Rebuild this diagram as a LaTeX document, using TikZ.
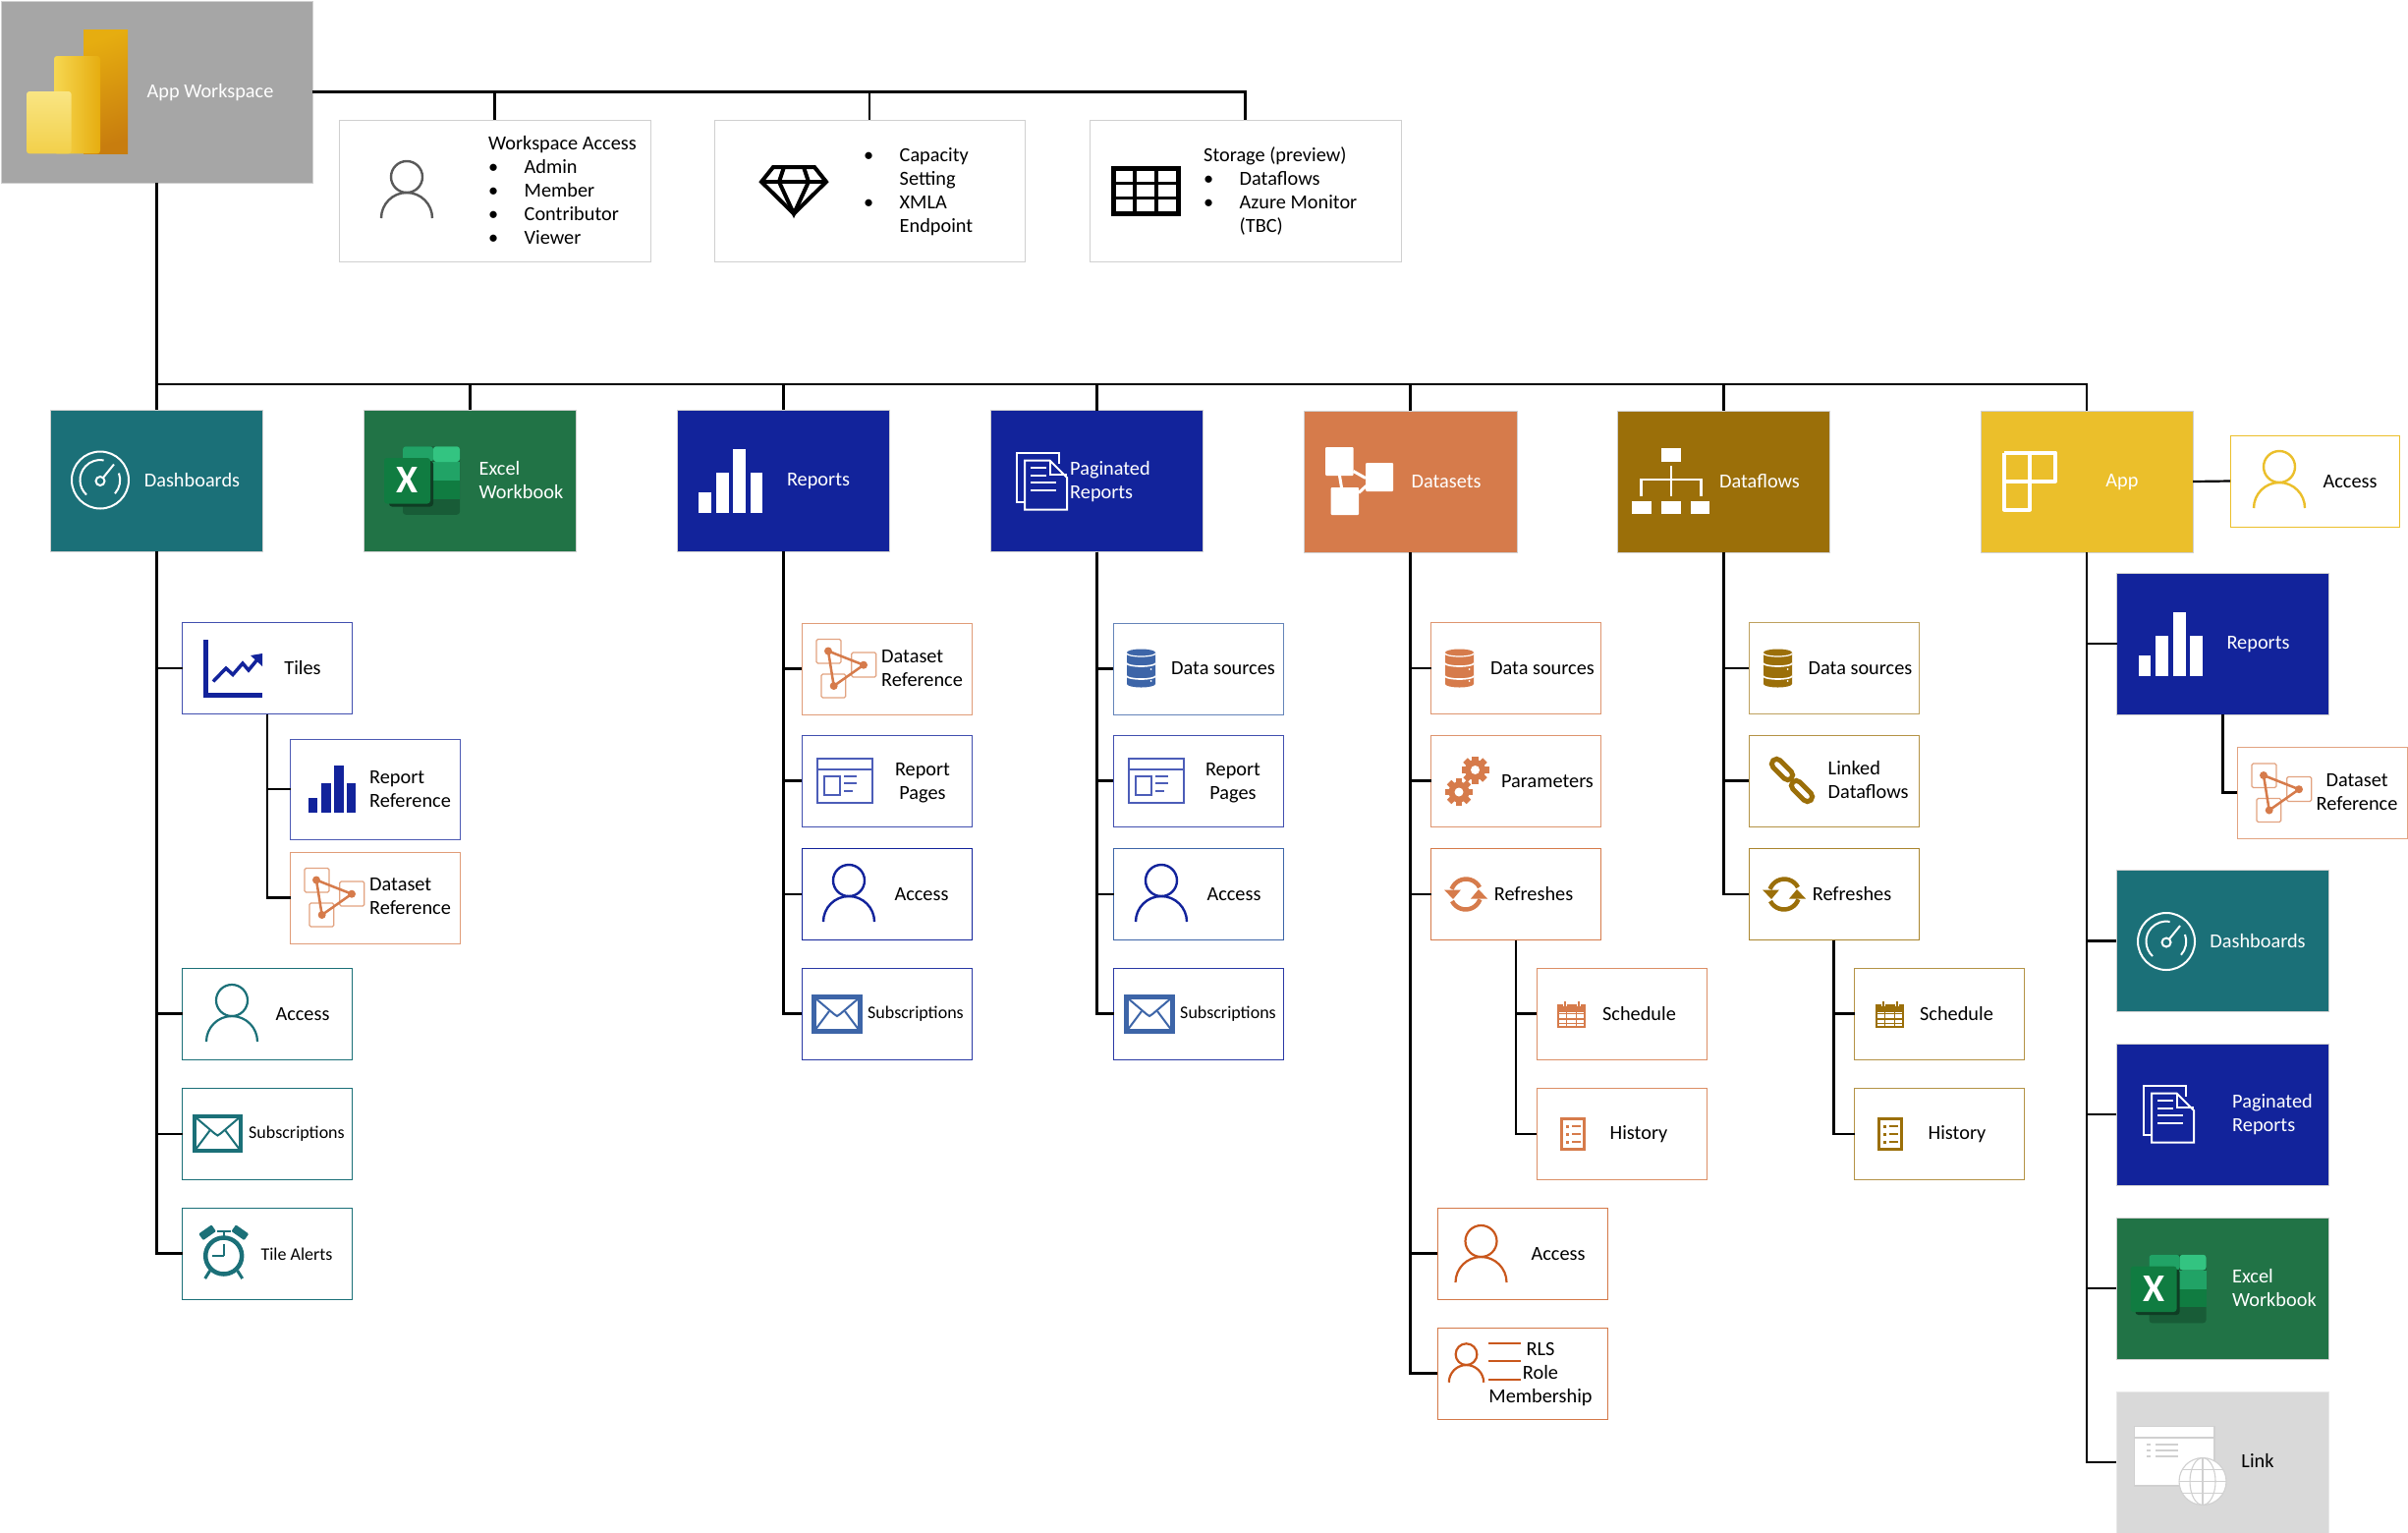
\documentclass[tikz,border=0pt]{standalone}
\usepackage{fontspec}
\setmainfont{Carlito}
\definecolor{wsgrey}{HTML}{A6A6A6}
\definecolor{edgegrey}{HTML}{D0D0D0}
\definecolor{dashteal}{HTML}{1B7078}
\definecolor{xlgreen}{HTML}{217346}
\definecolor{repnavy}{HTML}{12239B}
\definecolor{setorange}{HTML}{D67B4B}
\definecolor{flowbrown}{HTML}{9B6F09}
\definecolor{appyellow}{HTML}{EBBF2B}
\definecolor{linkgrey}{HTML}{D9D9D9}
\definecolor{dbblue}{HTML}{3D65A8}
\definecolor{pagelilac}{HTML}{4C5DB8}
\definecolor{rlsrust}{HTML}{C9571C}
\definecolor{xltop}{HTML}{33C481}
\definecolor{xlmid}{HTML}{21A366}
\definecolor{xldark}{HTML}{107C41}
\definecolor{xlbot}{HTML}{185C37}
\definecolor{xlshade}{HTML}{0F3D24}
\definecolor{biA}{HTML}{E6AD10}
\definecolor{biB}{HTML}{C87D0E}
\definecolor{biC}{HTML}{F6D751}
\definecolor{biD}{HTML}{F9E583}
\definecolor{biE}{HTML}{F2D04A}
\newcommand{\lfont}{\fontsize{20.3}{24}\selectfont}
\newcommand{\sfont}{\fontsize{18}{22}\selectfont}
\newcommand{\itm}{\makebox[36.5pt][l]{\textbullet}}
\tikzset{
  tile/.style={rectangle,fill=#1,draw=edgegrey,line width=1pt,minimum width=216pt,minimum height=144pt,inner sep=0pt,outer sep=0pt},
  card/.style={rectangle,fill=white,draw=#1,line width=1pt,minimum width=173pt,minimum height=93pt,inner sep=0pt,outer sep=0pt},
  lab/.style={font=\lfont,inner sep=0pt,align=center,text=black},
  wlab/.style={lab,text=white},
  conn/.style={draw=black,line width=2.2pt},
  upxy/.style={x=1pt,y=1pt},
}
% icons: centre x, centre y, scale, colour
\newcommand{\iconperson}[5]{\begin{scope}[shift={(#1,#2)},x=#3pt,y=#3pt]
  \draw[#4,line width=#5pt] (0,13) circle[radius=16];
  \draw[#4,line width=#5pt] (-26,-29) arc[start angle=180,end angle=0,radius=26];
\end{scope}}
\newcommand{\icongauge}[3]{\begin{scope}[shift={(#1,#2)},upxy,draw=white,line width=2pt]
  \draw (0,0) circle[radius=29];
  \draw (-14,-15) arc[start angle=227,end angle=80,radius=20.5];
  \draw (19,7) arc[start angle=20,end angle=-42,radius=20.5];
  \draw (0,-1) circle[radius=4.5];
  \draw (3,2.5) -- (14,16);
\end{scope}}
\newcommand{\iconexcel}[3]{\begin{scope}[shift={(#1,#2)},upxy]
  \fill[rounded corners=3pt,fill=xlbot] (-19.5,-34.75) rectangle (38.5,34.75);
  \fill[fill=xldark] (-19.5,0) rectangle (38.5,-18.5);
  \fill[fill=xlmid] (-19.5,0) rectangle (38.5,19);
  \fill[rounded corners=3pt,fill=xlmid] (-19.5,19) -- (-19.5,34.75) -- (11.5,34.75) -- (11.5,19) -- cycle;
  \fill[rounded corners=3pt,fill=xltop] (11.5,19) -- (11.5,34.75) -- (38.5,34.75) -- (38.5,19) -- cycle;
  \fill[rounded corners=3pt,fill=xlshade] (-33.5,-26.5) rectangle (11.5,20);
  \fill[rounded corners=3pt,fill=xldark] (-38.5,-23.5) rectangle (8.5,23);
  \node[font=\fontsize{40}{40}\selectfont\bfseries,text=white,inner sep=0pt] (#3) at (-15,0) {X};
\end{scope}}
\newcommand{\iconbars}[4]{\begin{scope}[shift={(#1,#2)},x=#3pt,y=#3pt]
  \fill[#4] (-32.5,-32.5) rectangle (-20,-12);
  \fill[#4] (-15,-32.5) rectangle (-2,8);
  \fill[#4] (2.5,-32.5) rectangle (15.5,32.5);
  \fill[#4] (20,-32.5) rectangle (32.5,8);
\end{scope}}
\newcommand{\iconpages}[2]{\begin{scope}[shift={(#1,#2)},upxy,draw=white,line width=2pt]
  \draw (-17.5,-21) -- (-25.5,-21) -- (-25.5,29) -- (17.5,29) -- (17.5,18);
  \draw (-17.5,21.4) -- (8,21.4) -- (25.5,4) -- (25.5,-28.6) -- (-17.5,-28.6) -- cycle;
  \draw (8,21.4) -- (8,7) -- (25.5,7);
  \draw (-11.5,14) -- (4.5,14);
  \draw (-11.5,6.5) -- (4.5,6.5);
  \draw (-11.5,-1) -- (14.5,-1);
  \draw (-11.5,-8.5) -- (14.5,-8.5);
\end{scope}}
\newcommand{\iconref}[2]{\begin{scope}[shift={(#1,#2)},upxy]
  \draw[rounded corners=1.5pt,draw=setorange!70!white,line width=1.3pt] (-30,29.5) rectangle (-5,5);
  \draw[rounded corners=1.5pt,draw=setorange!70!white,line width=1.3pt] (5.7,16) rectangle (30.7,-9);
  \draw[rounded corners=1.5pt,draw=setorange!70!white,line width=1.3pt] (-25,-6) rectangle (-0.3,-30);
  \draw[setorange,line width=2.5pt] (-18,17.5) -- (18,3.3) -- (-12.3,-18) -- cycle;
  \fill[setorange] (-18,17.5) circle[radius=4];
  \fill[setorange] (18,3.3) circle[radius=4];
  \fill[setorange] (-12.3,-18) circle[radius=4];
\end{scope}}
\newcommand{\icondb}[3]{\begin{scope}[shift={(#1,#2)},upxy]
  \fill[#3] (-14.5,-16) -- (-14.5,16) arc[start angle=180,end angle=0,x radius=14.5,y radius=3.5] -- (14.5,-16) arc[start angle=0,end angle=-180,x radius=14.5,y radius=3.5] -- cycle;
  \draw[white,line width=1.2pt] (-14.5,15) arc[start angle=180,end angle=360,x radius=14.5,y radius=3];
  \draw[white,line width=1.6pt] (-14.5,5) arc[start angle=180,end angle=360,x radius=14.5,y radius=3];
  \draw[white,line width=1.6pt] (-14.5,-8) arc[start angle=180,end angle=360,x radius=14.5,y radius=3];
  \fill[white] (10,-1) circle[radius=1];
  \fill[white] (10,-13) circle[radius=1];
\end{scope}}
\newcommand{\iconmail}[3]{\begin{scope}[shift={(#1,#2)},upxy]
  \draw[#3,line width=4.5pt] (-23.5,-17.5) rectangle (23.5,17.5);
  \draw[#3,line width=2pt] (-23,17) -- (-3,0) -- (0,-2) -- (3,0) -- (23,17);
  \draw[#3,line width=2pt] (-23,-17) -- (-8,3);
  \draw[#3,line width=2pt] (23,-17) -- (8,3);
\end{scope}}
\newcommand{\iconrpage}[2]{\begin{scope}[shift={(#1,#2)},upxy,draw=pagelilac,line width=2pt]
  \draw (-28,-22.5) rectangle (28,22.5);
  \draw (-28,11) -- (28,11);
  \draw (-21,4) rectangle (-5,-15);
  \draw (-1,4) -- (12,4);
  \draw (-1,-3) -- (12,-3);
  \draw (-1,-10.7) -- (8,-10.7);
\end{scope}}
\newcommand{\icongear}[3]{\begin{scope}[shift={(#1,#2)},upxy]
  \fill[setorange] (0,0) circle[radius=10.5];
  \foreach \a in {0,45,...,315} \fill[setorange,rotate=\a] (-3.2,8) rectangle (3.2,14);
  \fill[white] (0,0) circle[radius=4.5];
\end{scope}}
\newcommand{\iconrefresh}[3]{\begin{scope}[shift={(#1,#2)},upxy]
  \foreach \a in {0,180} {
    \draw[#3,line width=4.5pt,rotate=\a] (14,7) arc[start angle=27,end angle=160,radius=15.5];
    \fill[#3,rotate=\a] (-22,4.5) -- (-5,4.5) -- (-13,-5) -- cycle;
  }
\end{scope}}
\newcommand{\iconcal}[3]{\begin{scope}[shift={(#1,#2)},upxy]
  \fill[#3] (-14.5,-13.5) rectangle (14.5,11);
  \fill[white] (-9,9) rectangle (-5,12);
  \fill[white] (5,9) rectangle (9,12);
  \fill[#3] (-8,9) rectangle (-6,13.5);
  \fill[#3] (6,9) rectangle (8,13.5);
  \fill[white] (-12.5,-11.5) rectangle (12.5,2.5);
  \draw[#3,line width=1.4pt] (-14,-4.5) -- (14,-4.5);
  \draw[#3,line width=1.4pt] (-14,1) -- (14,1);
  \draw[#3,line width=1.4pt] (-5,3) -- (-5,-12);
  \draw[#3,line width=1.4pt] (5,3) -- (5,-12);
  \draw[#3,line width=1.4pt] (-14,-9) -- (14,-9);
\end{scope}}
\newcommand{\iconlist}[3]{\begin{scope}[shift={(#1,#2)},upxy]
  \draw[#3,line width=3pt] (-11.5,-15.5) rectangle (11.5,15.5);
  \foreach \y in {8,0,-8} {
    \fill[#3] (-7,\y-1.5) rectangle (-4,\y+1.5);
    \draw[#3,line width=1.2pt] (-1,\y) -- (8,\y);
  }
\end{scope}}
\begin{document}
\begin{tikzpicture}[x=1pt,y=-1pt]
\useasboundingbox (0,0) rectangle (2451,1559);

% top row
\node [tile=wsgrey,minimum width=317pt,minimum height=185pt] (work) at (159.5,93.5) {};
\node [card=edgegrey,minimum width=317pt,minimum height=144pt] (wacc) at (503.5,194) {};
\node [card=edgegrey,minimum width=316pt,minimum height=144pt] (cap) at (885,194) {};
\node [card=edgegrey,minimum width=317pt,minimum height=144pt] (store) at (1267.5,194) {};
\coordinate (bus) at (159.5,391);

\node [tile=dashteal] (dash) at (159.5,489) {};
\node [tile=xlgreen] (excel) at (478.5,489) {};
\node [tile=repnavy] (rep) at (797.5,489) {};
\node [tile=repnavy] (pag) at (1116.5,489.5) {};
\node [tile=setorange,minimum width=217pt] (dset) at (1435.5,490) {};
\node [tile=flowbrown] (dflow) at (1754.5,490) {};
\node [tile=appyellow] (app) at (2124,490) {};
\node [card=appyellow,minimum width=172pt] (appacc) at (2356,489.5) {};

% dashboards
\node [card=repnavy!80!white] (tiles) at (272,680) {};
\node [card=repnavy!75!white,minimum height=102pt] (rref) at (382,803) {};
\node [card=setorange!75!white] (dref1) at (382,913.5) {};
\node [card=dashteal] (dacc) at (272,1031.5) {};
\node [card=dashteal] (dsub) at (272,1154) {};
\node [card=dashteal] (alert) at (272,1275.5) {};

% reports
\node [card=setorange!75!white] (dref2) at (902.5,680.5) {};
\node [card=repnavy!80!white] (rpag1) at (902.5,794.5) {};
\node [card=repnavy] (racc) at (902.5,910) {};
\node [card=repnavy!90!white] (rsub) at (902.5,1031.5) {};

% paginated reports
\node [card=dbblue!80!white] (pds) at (1219.5,680.5) {};
\node [card=repnavy!80!white] (rpag2) at (1219.5,794.5) {};
\node [card=dbblue] (pacc) at (1220,910) {};
\node [card=repnavy!90!white] (psub) at (1220,1031.5) {};

% datasets
\node [card=setorange!80!white] (sds) at (1543,680) {};
\node [card=setorange!80!white] (para) at (1543,794.5) {};
\node [card=setorange] (sref) at (1543,910) {};
\node [card=setorange!85!white] (ssch) at (1650.5,1031.5) {};
\node [card=setorange!85!white] (shis) at (1650.5,1154) {};
\node [card=rlsrust!80!white] (sacc) at (1549.5,1275.5) {};
\node [card=rlsrust!80!white] (rls) at (1549.5,1397.5) {};

% dataflows
\node [card=flowbrown!65!white] (fds) at (1866.5,680) {};
\node [card=flowbrown!75!white] (lnk) at (1866.5,794.5) {};
\node [card=flowbrown!85!white] (fref) at (1866.5,910) {};
\node [card=flowbrown!75!white] (fsch) at (1974,1031.5) {};
\node [card=flowbrown!75!white] (fhis) at (1974,1154) {};

% app
\node [tile=repnavy] (arep) at (2262.5,655) {};
\node [card=setorange!70!white] (dref3) at (2363.5,806.5) {};
\node [tile=dashteal] (adash) at (2262,957.5) {};
\node [tile=repnavy] (apag) at (2262,1134) {};
\node [tile=xlgreen] (axl) at (2262,1311) {};
\node [tile=linkgrey,draw=linkgrey!60!white] (alink) at (2262,1488) {};

% connectors
\draw[conn] (work.east) -| (wacc.north);
\draw[conn] (work.east) -| (cap.north);
\draw[conn] (work.east) -| (store.north);
\draw[conn] (work.south) -- (bus);
\foreach \n in {dash,excel,rep,pag,dset,dflow,app}
  \draw[conn] (bus) -| (\n.north);
\foreach \n in {tiles,dacc,dsub,alert}
  \draw[conn] (dash.south) |- (\n.west);
\foreach \n in {rref,dref1}
  \draw[conn] (tiles.south) |- (\n.west);
\foreach \n in {dref2,rpag1,racc,rsub}
  \draw[conn] (rep.south) |- (\n.west);
\foreach \n in {pds,rpag2,pacc,psub}
  \draw[conn] (pag.south) |- (\n.west);
\foreach \n in {sds,para,sref,sacc,rls}
  \draw[conn] (dset.south) |- (\n.west);
\foreach \n in {ssch,shis}
  \draw[conn] (sref.south) |- (\n.west);
\foreach \n in {fds,lnk,fref}
  \draw[conn] (dflow.south) |- (\n.west);
\foreach \n in {fsch,fhis}
  \draw[conn] (fref.south) |- (\n.west);
\draw[conn] (app.east) -- (appacc.west);
\foreach \n in {arep,adash,apag,axl,alink}
  \draw[conn] (app.south) |- (\n.west);
\draw[conn] (arep.south) |- (dref3.west);

% labels
\node [wlab] (l1) at (214,94) {App Workspace};
\node [lab,align=left,anchor=west] (l2) at (497,193.5) {Workspace Access\\\itm Admin\\\itm Member\\\itm Contributor\\\itm Viewer};
\node [lab,align=left,anchor=west] (l3) at (879,195) {\itm Capacity\\\hspace{36.5pt}Setting\\\itm XMLA\\\hspace{36.5pt}Endpoint};
\node [lab,align=left,anchor=west] (l4) at (1225,194.5) {Storage (preview)\\\itm Dataflows\\\itm Azure Monitor\\\hspace{36.5pt}(TBC)};
\node [wlab] (l5) at (195.5,489) {Dashboards};
\node [wlab,align=left,anchor=west] (l6) at (487.5,489) {Excel\\Workbook};
\node [wlab] (l7) at (833,490) {Reports};
\node [wlab,align=left,anchor=west] (l8) at (1089,490) {Paginated\\Reports};
\node [wlab] (l9) at (1472,490) {Datasets};
\node [wlab] (l10) at (1791,490) {Dataflows};
\node [wlab] (l11) at (2160,491) {App};
\node [lab] (l12) at (2392,490) {Access};
\node [lab] (l13) at (308,680) {Tiles};
\node [lab,align=left,anchor=west] (l14) at (376,803) {Report\\Reference};
\node [lab,align=left,anchor=west] (l15) at (376,912) {Dataset\\Reference};
\node [lab] (l16) at (308,1032) {Access};
\node [lab,font=\sfont] (l17) at (302,1154) {Subscriptions};
\node [lab,font=\sfont] (l18) at (302,1276) {Tile Alerts};
\node [lab,align=left,anchor=west] (l19) at (897,680) {Dataset\\Reference};
\node [lab] (l20) at (939,796.5) {Report\\Pages};
\node [lab] (l21) at (938,910) {Access};
\node [lab,font=\sfont] (l22) at (932,1032) {Subscriptions};
\node [lab] (l23) at (1245,680) {Data sources};
\node [lab] (l24) at (1255,796.5) {Report\\Pages};
\node [lab] (l25) at (1256,910) {Access};
\node [lab,font=\sfont] (l26) at (1250,1032) {Subscriptions};
\node [lab] (l27) at (1570,680) {Data sources};
\node [lab] (l28) at (1575,795) {Parameters};
\node [lab] (l29) at (1561,910) {Refreshes};
\node [lab] (l30) at (1668.5,1032) {Schedule};
\node [lab] (l31) at (1668,1154) {History};
\node [lab] (l32) at (1586,1276) {Access};
\node [lab] (l33) at (1568,1399) {RLS\\Role\\Membership};
\node [lab] (l34) at (1893.5,680) {Data sources};
\node [lab,align=left,anchor=west] (l35) at (1860.5,794) {Linked\\Dataflows};
\node [lab] (l36) at (1885,910) {Refreshes};
\node [lab] (l37) at (1991.5,1032) {Schedule};
\node [lab] (l38) at (1992,1154) {History};
\node [wlab] (l39) at (2298.5,656) {Reports};
\node [lab] (l40) at (2399,806) {Dataset\\Reference};
\node [wlab] (l41) at (2298,957.5) {Dashboards};
\node [wlab,align=left,anchor=west] (l42) at (2272,1134) {Paginated\\Reports};
\node [wlab,align=left,anchor=west] (l43) at (2272,1310) {Excel\\Workbook};
\node [lab] (l44) at (2298,1486) {Link};

% workspace logo
\shade[top color=biA,bottom color=biB,shading angle=20] (85,30) rectangle (130,156.4);
\shade[left color=biC,right color=biA,rounded corners=3pt] (55,156.4) -- (55,57) -- (102,57) -- (102,156.4) -- cycle;
\shade[top color=biD,bottom color=biE,rounded corners=3pt] (27,156.4) -- (27,93) -- (72.7,93) -- (72.7,156.4) -- cycle;

% icons
\iconperson{414}{193}{1}{black!65}{2.4}
\begin{scope}[shift={(808,194.5)},upxy,line width=4pt,line join=miter]
  \draw (-33,9.5) -- (-21,24.5) -- (21,24.5) -- (33,9.5) -- (0,-23) -- cycle;
  \draw (-33,9.5) -- (33,9.5);
  \draw (-10,24.5) -- (-15,9.5) -- (0,-23) -- (15,9.5) -- (10,24.5);
\end{scope}
\begin{scope}[shift={(1166,194)},upxy]
  \draw[line width=5pt] (-33,-23) rectangle (33,23);
  \draw[line width=3.5pt] (-11,-23) -- (-11,23);
  \draw[line width=3.5pt] (11,-23) -- (11,23);
  \draw[line width=3.5pt] (-33,-7.5) -- (33,-7.5);
  \draw[line width=3.5pt] (-33,7.5) -- (33,7.5);
\end{scope}

\icongauge{102}{488.5}{1}
\icongauge{2205}{958}{1}
\iconexcel{429.5}{489}{xl1}
\iconexcel{2207}{1311.5}{xl2}
\iconbars{743.5}{489}{1}{white}
\iconbars{2209}{655}{1}{white}
\iconbars{338}{803}{.75}{repnavy}
\iconpages{1060.5}{490}
\iconpages{2207.5}{1134}

% datasets logo
\begin{scope}[shift={(1383.5,489.5)},upxy,white]
  \fill[rounded corners=1pt] (-34.5,34.5) rectangle (-6,5.5);
  \fill[rounded corners=1pt] (6.5,18.5) rectangle (34.5,-10.5);
  \fill[rounded corners=1pt] (-29,-6.5) rectangle (-0.5,-34.5);
  \draw[line width=3pt] (-6,10) -- (6.5,3);
  \draw[line width=3pt] (-20,5.5) -- (-18,-6.5);
  \draw[line width=3pt] (-0.5,-12) -- (7,-5);
\end{scope}

% dataflows logo
\begin{scope}[shift={(1700.5,490)},upxy,white]
  \fill (-10,34) rectangle (10.5,20);
  \fill (-39.5,-19.7) rectangle (-19.5,-33.3);
  \fill (-10,-19.7) rectangle (10.5,-33.3);
  \fill (20,-19.7) rectangle (39.5,-33.3);
  \draw[line width=2.8pt] (0.5,16) -- (0.5,-15);
  \draw[line width=2.8pt] (-30,-15) -- (-30,2) -- (31,2) -- (31,-15);
\end{scope}

% app logo
\begin{scope}[shift={(2066,489.5)},upxy,white,line width=4pt,line join=round]
  \draw (-26,29) -- (26,29) -- (26,0) -- (-26,0);
  \draw (-26,29) -- (-26,-29) -- (0,-29) -- (0,29);
\end{scope}

\iconperson{2320}{488}{1}{appyellow}{2.4}
\iconperson{236}{1031}{1}{dashteal}{2.2}
\iconperson{864}{909}{1}{repnavy}{2.4}
\iconperson{1182}{909}{1}{repnavy}{2.4}
\iconperson{1507.5}{1276}{1}{rlsrust}{2.2}
\iconperson{1492.5}{1387}{.68}{rlsrust}{2.2}
\foreach \y in {1367,1385,1404}
  \draw[rlsrust,line width=2pt] (1514.5,\y) -- (1548,\y);

% tiles chart
\draw[repnavy,line width=5pt] (209.5,651) -- (209.5,707) -- (267,707);
\draw[repnavy,line width=3.5pt] (217,693.5) -- (230,680) -- (237,686.5) -- (247,675) -- (253,682) -- (262,671);
\fill[repnavy] (267,665) -- (267,678) -- (255,667) -- cycle;

\iconref{340}{913}
\iconref{861}{680}
\iconref{2322}{806.5}

\icondb{1161.5}{680}{dbblue}
\icondb{1485.5}{680}{setorange}
\icondb{1809.5}{680}{flowbrown}

\iconmail{221.5}{1153.5}{dashteal}
\iconmail{852}{1032}{dbblue}
\iconmail{1170}{1032}{dbblue}

\iconrpage{860}{794}
\iconrpage{1177}{794}

\icongear{1501.5}{783.5}{1}
\icongear{1485}{806}{1}

\iconrefresh{1492}{910}{setorange}
\iconrefresh{1816}{910}{flowbrown}
\iconcal{1599.5}{1032.5}{setorange}
\iconcal{1923.5}{1032.5}{flowbrown}
\iconlist{1601}{1154}{setorange}
\iconlist{1924}{1154}{flowbrown}

% chain
\draw[flowbrown,line width=5pt,rounded corners=5pt,rotate around={-45:(1814,783)}] (1801,778) rectangle (1827,788);
\draw[flowbrown,line width=5pt,rounded corners=5pt,rotate around={-45:(1834,805)}] (1821,800) rectangle (1847,810);

% alarm clock
\begin{scope}[shift={(227.7,1278)},upxy,dashteal]
  \draw[line width=4.5pt] (0,0) circle[radius=18.5];
  \draw[line width=2.2pt] (0,0) -- (0,12);
  \draw[line width=2.2pt] (0,0) -- (-12,0);
  \draw[line width=2.2pt] (0,18) -- (0,24);
  \draw[line width=2.2pt] (-7,25) -- (7,25);
  \fill[rounded corners=1pt,rotate=35] (-8,25) rectangle (8,33);
  \fill[rounded corners=1pt,rotate=-35] (-8,25) rectangle (8,33);
  \draw[line width=3pt] (-14,-15) -- (-19,-23);
  \draw[line width=3pt] (14,-15) -- (19,-23);
\end{scope}

% link logo
\draw[fill=white,draw=edgegrey,line width=1.2pt] (2172.7,1451.6) rectangle (2254,1512);
\draw[edgegrey,line width=1.2pt] (2172.7,1463) -- (2254,1463);
\foreach \y in {1470,1476,1482} {
  \draw[edgegrey,line width=1.5pt] (2185,\y) -- (2189,\y);
  \draw[edgegrey,line width=1.5pt] (2194,\y) -- (2217,\y);
}
\begin{scope}[shift={(2242,1507.5)},upxy,draw=edgegrey,line width=1.1pt]
  \draw[fill=white] (0,0) circle[radius=24];
  \draw (0,0) ellipse[x radius=13,y radius=24];
  \draw (0,-24) -- (0,24);
  \draw (-24,0) -- (24,0);
  \draw (-21,12) -- (21,12);
  \draw (-21,-12) -- (21,-12);
\end{scope}
\end{tikzpicture}
\end{document}
